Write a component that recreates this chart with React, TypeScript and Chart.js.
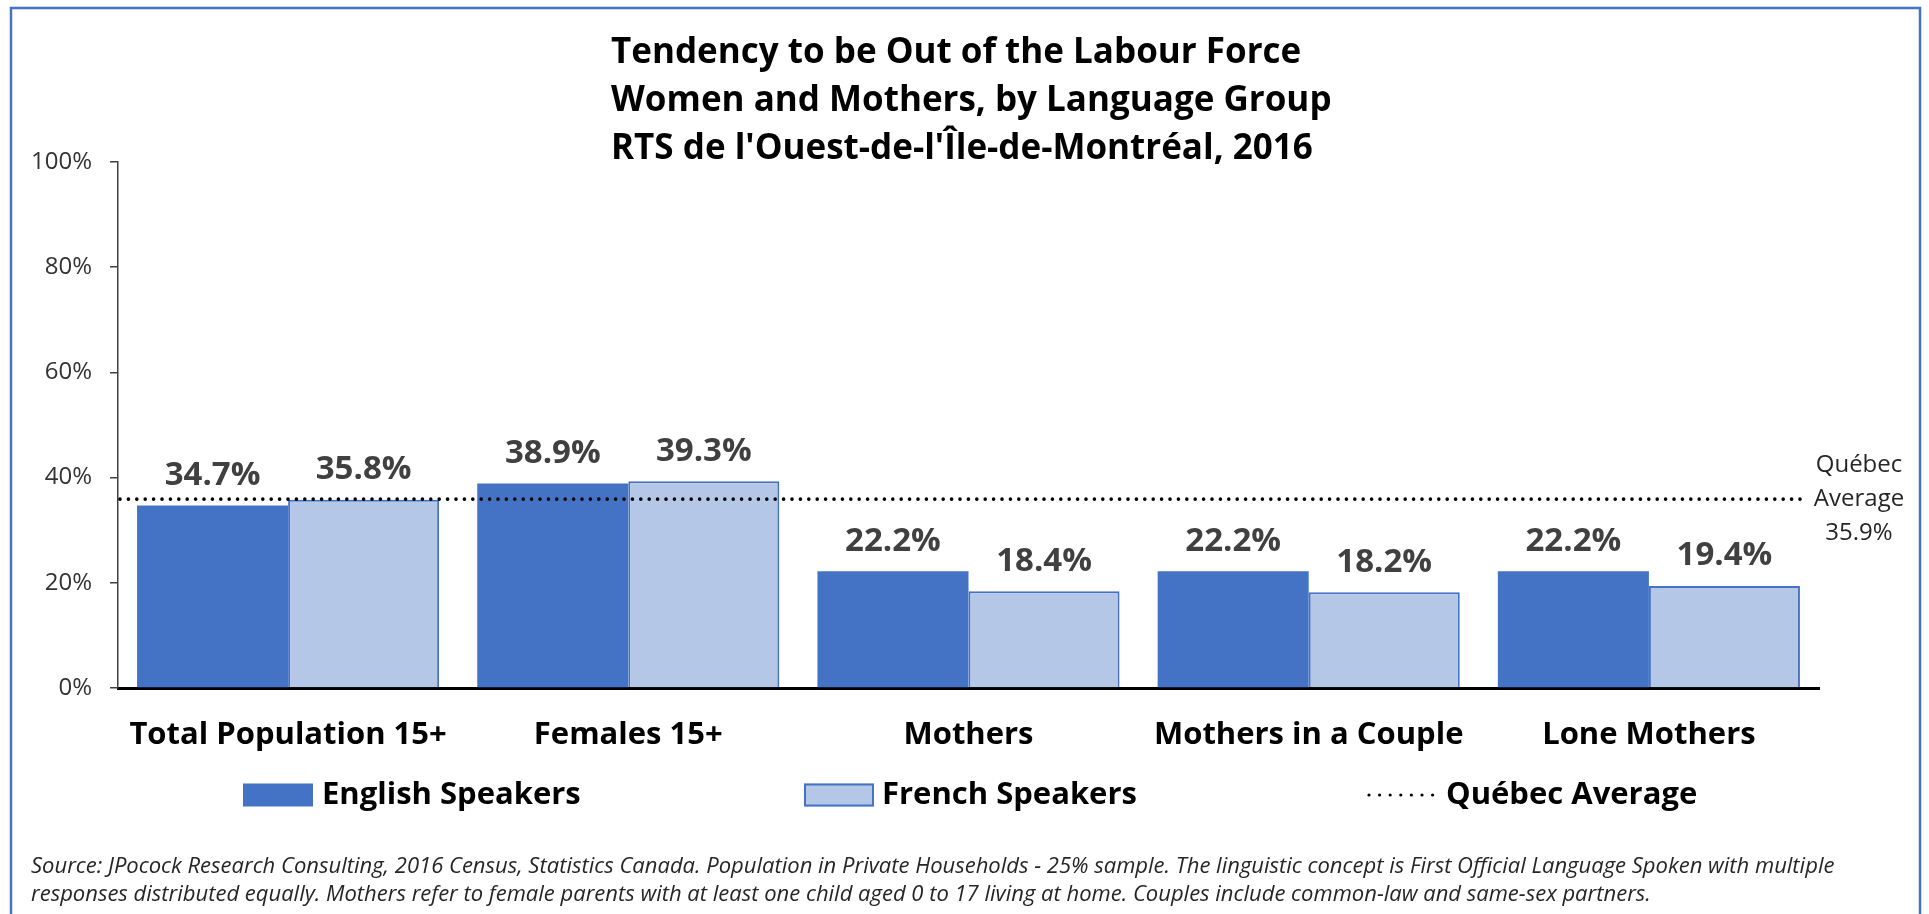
import React, { useEffect, useRef } from "react";
import { Chart, registerables } from "chart.js";

Chart.register(...registerables);

const CATEGORIES = ["Total Population 15+", "Females 15+", "Mothers", "Mothers in a Couple", "Lone Mothers"];
const ENGLISH = [34.7, 38.9, 22.2, 22.2, 22.2];
const FRENCH = [35.8, 39.3, 18.4, 18.2, 19.4];
const QUEBEC_AVG = 35.9;
const SERIES_NAMES = ["English Speakers", "French Speakers"];
const AVG_NAME = "Québec Average";
const AVG_LABEL_LINES = ["Québec", "Average", "35.9%"];
const Y_MIN = 0;
const Y_MAX = 100;
const Y_STEP = 20;
const TITLE_LINES = [
  "Tendency to be Out of the Labour Force",
  "Women and Mothers, by Language Group",
  "RTS de l'Ouest-de-l'Île-de-Montréal, 2016",
];
const FOOTNOTE_LINES = [
  "Source: JPocock Research Consulting, 2016 Census, Statistics Canada. Population in Private Households - 25% sample. The linguistic concept is First Official Language Spoken with multiple",
  "responses distributed equally. Mothers refer to female parents with at least one child aged 0 to 17 living at home. Couples include common-law and same-sex partners.",
];

const DARK_BLUE = "#4472C4";
const LIGHT_BLUE = "#B4C7E7";
const FONT = "'Open Sans', 'Noto Sans', sans-serif";

export default function App() {
  const ref = useRef<HTMLCanvasElement>(null);

  useEffect(() => {
    const canvas = ref.current!;

    const decorations = {
      id: "decorations",
      beforeDraw(chart: any) {
        const ctx = chart.ctx;
        ctx.save();
        ctx.fillStyle = "#fff";
        ctx.fillRect(0, 0, chart.width, chart.height);
        ctx.strokeStyle = DARK_BLUE;
        ctx.lineWidth = 2.5;
        ctx.strokeRect(11, 8, 1909, 1000);
        ctx.restore();
      },
      afterDatasetsDraw(chart: any) {
        const ctx = chart.ctx;
        const area = chart.chartArea;
        const yScale = chart.scales.y;

        // data labels
        ctx.save();
        ctx.font = `bold 33px ${FONT}`;
        ctx.fillStyle = "#404040";
        ctx.textAlign = "center";
        ctx.textBaseline = "middle";
        chart.data.datasets.forEach((ds: any, di: number) => {
          const meta = chart.getDatasetMeta(di);
          meta.data.forEach((bar: any, i: number) => {
            ctx.fillText(`${Number(ds.data[i]).toFixed(1)}%`, bar.x, bar.y - 30);
          });
        });
        ctx.restore();

        // Québec average line
        const yAvg = yScale.getPixelForValue(QUEBEC_AVG);
        ctx.save();
        ctx.strokeStyle = "#000";
        ctx.lineWidth = 3.6;
        ctx.lineCap = "round";
        ctx.setLineDash([0, 8.4]);
        ctx.beginPath();
        ctx.moveTo(area.left + 2, yAvg);
        ctx.lineTo(area.right - 17, yAvg);
        ctx.stroke();
        ctx.restore();

        // Québec average label
        ctx.save();
        ctx.font = `24px ${FONT}`;
        ctx.fillStyle = "#262626";
        ctx.textAlign = "center";
        ctx.textBaseline = "middle";
        const lx = area.right + 40;
        AVG_LABEL_LINES.forEach((t, i) => ctx.fillText(t, lx, yAvg + (i - 1) * 34));
        ctx.restore();
      },
      afterDraw(chart: any) {
        const ctx = chart.ctx;
        // title
        ctx.save();
        ctx.font = `bold 35px ${FONT}`;
        ctx.fillStyle = "#000";
        ctx.textAlign = "left";
        ctx.textBaseline = "middle";
        const ty = [53, 101, 149];
        TITLE_LINES.forEach((t, i) => ctx.fillText(t, 611, ty[i]));
        ctx.restore();

        // legend
        ctx.save();
        const ly = 795;
        ctx.font = `bold 31px ${FONT}`;
        ctx.textBaseline = "middle";
        ctx.textAlign = "left";
        ctx.fillStyle = DARK_BLUE;
        ctx.fillRect(243, ly - 11.5, 70, 23);
        ctx.fillStyle = "#000";
        ctx.fillText(SERIES_NAMES[0], 322, ly);
        ctx.fillStyle = LIGHT_BLUE;
        ctx.fillRect(804, ly - 11.5, 70, 23);
        ctx.strokeStyle = DARK_BLUE;
        ctx.lineWidth = 2;
        ctx.strokeRect(805, ly - 10.5, 68, 21);
        ctx.fillStyle = "#000";
        ctx.fillText(SERIES_NAMES[1], 882, ly);
        ctx.strokeStyle = "#000";
        ctx.lineWidth = 3.2;
        ctx.lineCap = "round";
        ctx.setLineDash([0, 10.6]);
        ctx.beginPath();
        ctx.moveTo(1369, ly);
        ctx.lineTo(1433, ly);
        ctx.stroke();
        ctx.setLineDash([]);
        ctx.fillText(AVG_NAME, 1446, ly);
        ctx.restore();

        // footnote
        ctx.save();
        ctx.font = `italic 20px ${FONT}`;
        const w = ctx.measureText(FOOTNOTE_LINES[0]).width;
        const size = (20 * 1804) / w;
        ctx.font = `italic ${size.toFixed(2)}px ${FONT}`;
        ctx.fillStyle = "#262626";
        ctx.textAlign = "left";
        ctx.textBaseline = "middle";
        ctx.fillText(FOOTNOTE_LINES[0], 31, 867);
        ctx.fillText(FOOTNOTE_LINES[1], 31, 895);
        ctx.restore();
      },
    };

    const chart = new Chart(canvas, {
      type: "bar",
      data: {
        labels: CATEGORIES,
        datasets: [
          {
            label: SERIES_NAMES[0],
            data: ENGLISH,
            backgroundColor: DARK_BLUE,
            borderWidth: 0,
            categoryPercentage: 0.888,
            barPercentage: 1.0,
          },
          {
            label: SERIES_NAMES[1],
            data: FRENCH,
            backgroundColor: LIGHT_BLUE,
            borderColor: DARK_BLUE,
            borderWidth: 2,
            categoryPercentage: 0.888,
            barPercentage: 1.0,
          },
        ],
      },
      options: {
        responsive: false,
        maintainAspectRatio: false,
        animation: false,
        devicePixelRatio: 1,
        layout: { padding: { top: 162, right: 110, left: 0, bottom: 0 } },
        plugins: {
          legend: { display: false },
          title: { display: false },
          tooltip: { enabled: false },
        },
        scales: {
          x: {
            grid: { display: false, drawTicks: false },
            border: { display: true, color: "#000", width: 3 },
            ticks: {
              font: { family: FONT, size: 31, weight: "bold" },
              color: "#000",
              padding: 29,
              maxRotation: 0,
              autoSkip: false,
            },
            afterFit(scale: any) {
              scale.height = 226;
            },
          },
          y: {
            min: Y_MIN,
            max: Y_MAX,
            grid: {
              drawOnChartArea: false,
              drawTicks: true,
              tickLength: 8,
              color: "#404040",
              lineWidth: 1.5,
            },
            border: { display: true, color: "#404040", width: 1.5 },
            ticks: {
              stepSize: Y_STEP,
              font: { family: FONT, size: 24 },
              color: "#333",
              padding: 18,
              callback: (v: any) => `${v}%`,
            },
            afterFit(scale: any) {
              scale.width = 118;
            },
          },
        },
      },
      plugins: [decorations],
    });

    return () => chart.destroy();
  }, []);

  return (
    <div
      style={{
        position: "fixed",
        left: 0,
        top: 0,
        width: 1929,
        height: 914,
        background: "#fff",
        overflow: "hidden",
      }}
    >
      <canvas ref={ref} width={1929} height={914} style={{ display: "block", width: 1929, height: 914 }} />
    </div>
  );
}
